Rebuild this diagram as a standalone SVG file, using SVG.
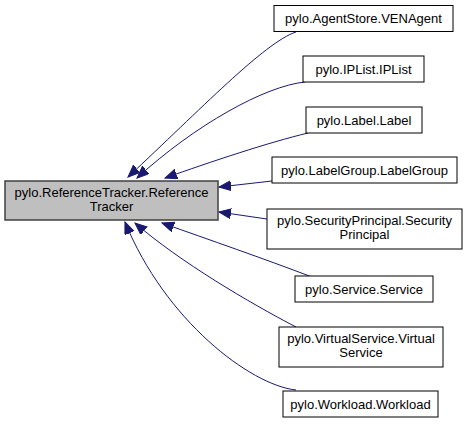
<svg xmlns="http://www.w3.org/2000/svg" width="467" height="424" viewBox="0 0 467 424">
<style>
.n rect{fill:#ffffff;stroke:#000000;stroke-width:1}
.n.base rect{fill:#bfbfbf;stroke:#404040;stroke-width:1.5}
text{font-family:"Liberation Sans",Arial,sans-serif;font-size:13px;fill:#000000;text-anchor:middle}
.e path{fill:none;stroke:#191970;stroke-width:1}
</style>
<defs>
<marker id="ah" markerUnits="userSpaceOnUse" markerWidth="14" markerHeight="12" refX="12" refY="5" orient="auto">
<path d="M0,0 L12,5 L0,10 Z" fill="#191970" stroke="#191970" stroke-width="1"/>
</marker>
</defs>
<rect width="467" height="424" fill="#ffffff"/>
<g id="connectors" class="e">
<path d="M296,32 C265,42 200,110 128,177" marker-end="url(#ah)"/>
<path d="M305,82 C265,86 195,125 137,178" marker-end="url(#ah)"/>
<path d="M308,133 C270,142 210,162 165,178" marker-end="url(#ah)"/>
<path d="M272,181 L219,187" marker-end="url(#ah)"/>
<path d="M267,219 L219,212" marker-end="url(#ah)"/>
<path d="M312,277 C262,258 210,240 162,223" marker-end="url(#ah)"/>
<path d="M296,327 C250,303 180,262 135,223" marker-end="url(#ah)"/>
<path d="M296,390 C250,385 165,320 125,222" marker-end="url(#ah)"/>
</g>
<g id="node-base" class="n base">
<rect x="5" y="181" width="213" height="39"/>
<text x="111.5" y="197">pylo.ReferenceTracker.Reference</text>
<text x="111.5" y="211">Tracker</text>
</g>
<g id="node-venagent" class="n">
<rect x="274" y="5.5" width="179" height="26"/>
<text x="363.5" y="23">pylo.AgentStore.VENAgent</text>
</g>
<g id="node-iplist" class="n">
<rect x="303" y="56" width="121" height="26"/>
<text x="363.5" y="73.5">pylo.IPList.IPList</text>
</g>
<g id="node-label" class="n">
<rect x="306" y="107" width="116" height="26"/>
<text x="364" y="124.5">pylo.Label.Label</text>
</g>
<g id="node-labelgroup" class="n">
<rect x="272" y="157" width="185" height="26"/>
<text x="364.5" y="174.5">pylo.LabelGroup.LabelGroup</text>
</g>
<g id="node-securityprincipal" class="n">
<rect x="267" y="209" width="195" height="40"/>
<text x="364.5" y="225">pylo.SecurityPrincipal.Security</text>
<text x="364.5" y="239">Principal</text>
</g>
<g id="node-service" class="n">
<rect x="295" y="276" width="138" height="26"/>
<text x="364" y="293.5">pylo.Service.Service</text>
</g>
<g id="node-virtualservice" class="n">
<rect x="279" y="327" width="164" height="40"/>
<text x="361" y="343">pylo.VirtualService.Virtual</text>
<text x="361" y="357">Service</text>
</g>
<g id="node-workload" class="n">
<rect x="283" y="391" width="155" height="26"/>
<text x="360.5" y="408.5">pylo.Workload.Workload</text>
</g>
</svg>
